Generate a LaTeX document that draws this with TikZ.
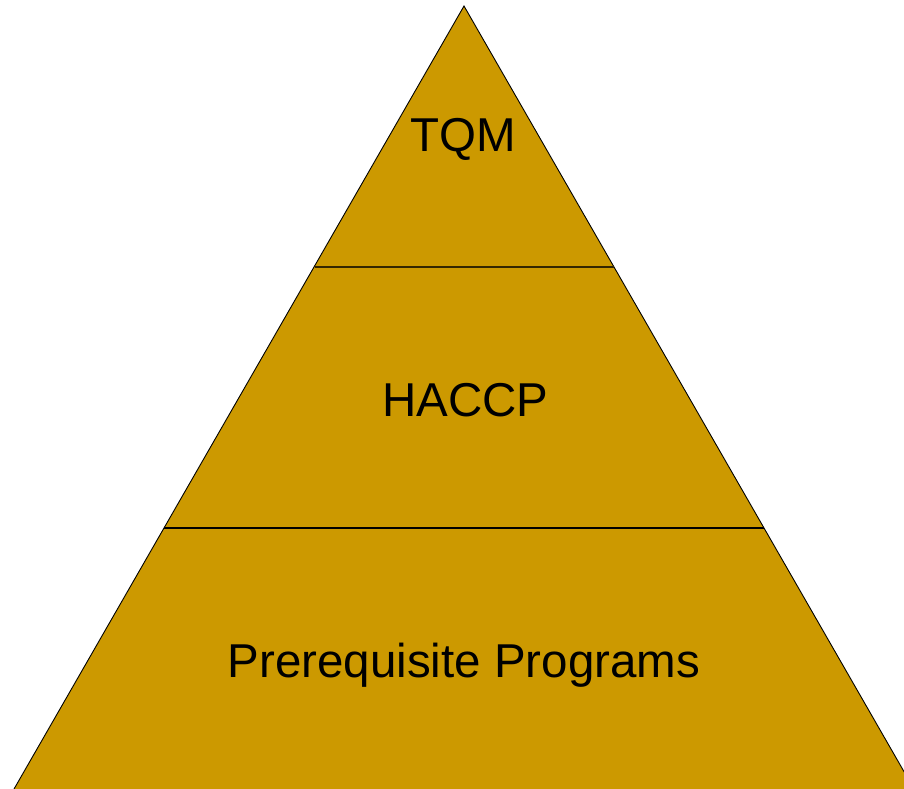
\documentclass[tikz,border=0pt]{standalone}
\usepackage{fontspec}
\setmainfont{Liberation Sans}
\definecolor{gold}{HTML}{CC9900}
\begin{document}
\begin{tikzpicture}[x=1pt,y=-1pt,
  label/.style={font=\fontsize{47.5}{52}\selectfont,text=black,inner sep=0pt,anchor=base}]
\useasboundingbox (0,0) rectangle (904,788);
\clip (0,0) rectangle (904,788);
\coordinate (apex) at (464,6);
\coordinate (bl) at (14,789);
\coordinate (br) at (914,789);
\coordinate (l1) at (314.5,267);
\coordinate (r1) at (613.5,267);
\coordinate (l2) at (164,528);
\coordinate (r2) at (764,528);
\fill[gold] (apex) -- (bl) -- (br) -- cycle;
\draw[black,line width=0.9pt] (bl) -- (apex) -- (br);
\draw[black!75!gold,line width=1.6pt] (l1) -- (r1);
\draw[black,line width=1.6pt] (l2) -- (r2);
\node[label] (tqm) at (463,151) {TQM};
\node[label] (haccp) at (465.5,416) {HACCP};
\node[label] (prp) at (464,677) {Prerequisite Programs};
\end{tikzpicture}
\end{document}
